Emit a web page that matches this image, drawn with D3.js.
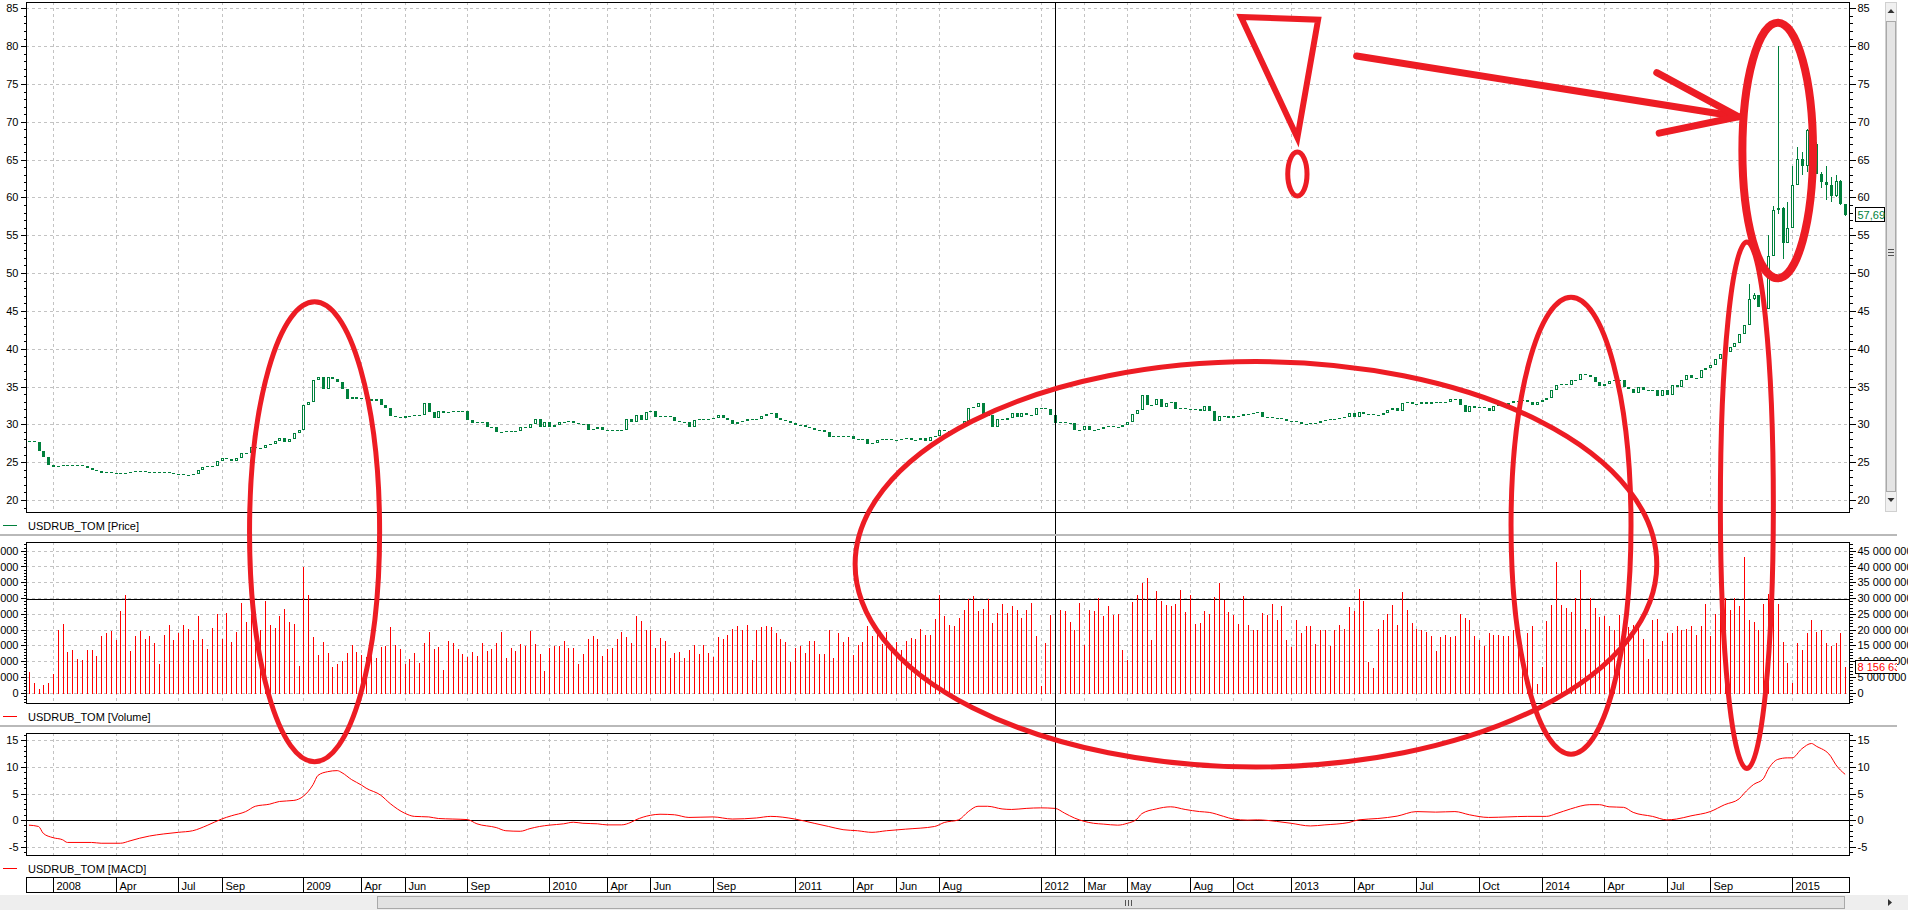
<!DOCTYPE html>
<html><head><meta charset="utf-8">
<script src="https://cdn.jsdelivr.net/npm/d3@7/dist/d3.min.js"></script>
<style>
html,body{margin:0;padding:0;background:#fff;overflow:hidden;}
svg{display:block;font-family:"Liberation Sans",Arial,sans-serif;}
</style></head><body>
<svg id="c" width="1908" height="910"></svg>
<script>
// ---------- DATA ----------
const closePrice = [
27.8,27.7,26.5,25.7,24.6,24.4,24.5,24.65,24.5,24.6,
24.6,24.5,24.2,23.9,23.8,23.6,23.7,23.6,23.5,23.55,
23.6,23.65,23.8,23.8,23.7,23.7,23.7,23.65,23.7,23.6,
23.45,23.4,23.3,23.35,23.4,23.9,24.4,24.5,24.5,25.1,
25.5,25.4,25.15,25.6,26.25,26.25,27.0,26.9,26.9,27.3,
27.4,27.8,28.2,27.7,28.1,28.9,29.3,32.5,32.9,35.8,
36.2,34.7,36.2,36.0,35.6,34.7,33.4,33.6,33.3,33.5,
33.4,33.1,33.3,32.6,32.2,31.1,31.0,30.8,31.1,31.1,
31.3,31.3,32.8,31.6,30.9,31.7,31.5,31.6,31.8,31.6,
31.8,30.6,30.2,30.3,30.3,29.6,29.6,29.0,29.0,29.1,
29.0,29.1,29.7,29.5,30.1,30.7,29.6,30.3,29.6,29.9,
30.3,30.3,30.4,30.2,30.0,30.0,29.3,29.4,29.6,29.2,
29.2,29.1,29.2,29.2,30.7,30.3,31.3,30.6,31.6,31.7,
31.0,31.1,31.1,31.0,30.4,30.3,30.3,29.7,30.6,30.7,
30.7,30.7,30.9,31.2,30.8,30.6,30.0,30.3,30.4,30.7,
30.7,30.7,31.1,31.4,31.5,30.9,30.6,30.5,30.2,29.9,
29.9,29.6,29.5,29.3,29.3,29.0,28.3,28.5,28.4,28.4,
28.5,28.0,28.1,28.1,27.4,27.5,27.9,28.0,28.0,27.9,
27.9,28.1,28.2,27.9,27.9,28.2,27.8,28.3,28.4,29.2,
29.1,29.0,29.4,29.8,30.4,32.2,32.3,32.8,31.2,31.2,
29.7,30.7,30.6,30.8,31.5,31.0,31.5,31.2,31.2,32.1,
32.1,32.0,31.2,30.2,30.3,30.2,30.2,29.2,29.3,29.8,
29.3,29.2,29.4,29.6,29.8,29.7,29.6,29.9,30.3,31.4,
31.9,33.9,32.5,32.6,33.3,32.3,32.8,32.9,32.0,32.1,
32.0,31.9,32.0,31.8,32.4,31.7,30.5,31.1,31.1,30.9,
31.1,31.1,31.4,31.4,31.5,31.6,31.0,31.0,30.9,30.9,
30.7,30.5,30.4,30.3,30.1,30.0,30.2,30.2,30.4,30.6,
30.7,30.7,30.8,31.0,31.5,31.0,31.6,31.4,31.4,31.3,
31.3,31.5,31.9,32.1,31.8,32.8,32.9,32.7,32.7,32.9,
32.7,33.0,33.0,33.0,33.0,33.3,33.3,32.6,31.6,32.4,
32.2,32.3,32.2,31.7,32.4,32.5,32.6,32.8,33.1,33.1,
33.2,33.0,32.5,32.9,33.2,33.5,34.5,35.2,35.3,35.2,
35.8,35.9,36.6,36.5,36.2,35.6,35.1,35.4,35.7,35.9,
35.8,35.0,34.7,34.2,35.0,34.5,34.5,34.5,33.7,34.5,
33.9,35.2,35.0,35.8,36.5,36.1,36.1,37.2,37.4,37.8,
38.6,39.3,39.6,40.2,40.8,42.0,43.1,46.6,47.1,45.5,
45.2,52.3,58.3,58.6,54.0,55.9,61.6,65.1,64.2,68.9,
67.0,63.1,62.0,61.6,60.2,62.2,59.1,57.69
];
const wickIndex = [357,358,361,362,363,364,365,366,367,368,369,370,371,372,373,374,375,376,377];
const wickHigh  = [48.6,47.4,55.0,58.8,80.0,58.7,59.4,64.1,66.6,66.0,69.0,69.0,67.3,63.4,64.1,62.7,62.9,62.3,59.1];
const wickLow   = [43.1,46.4,50.8,52.3,57.8,51.8,54.7,57.4,61.9,62.9,63.3,66.5,63.1,61.3,59.6,59.4,60.0,59.0,57.5];

// volume, millions
const volumeMln = [
6.5,3.0,1.2,2.4,3.2,5.9,19.8,21.7,13.0,13.5,
10.6,10.3,13.5,13.5,11.6,17.9,18.8,19.5,16.6,25.9,
30.9,13.2,17.9,19.5,17.0,17.9,15.9,9.1,18.4,21.4,
16.6,19.0,21.4,20.3,16.6,24.2,17.0,14.0,20.5,24.9,
17.0,25.3,16.1,19.2,28.5,22.4,25.0,24.0,20.0,29.1,
21.5,20.6,24.4,26.5,22.4,21.9,8.5,39.9,30.9,17.6,
11.9,16.1,12.7,8.2,9.0,10.1,12.7,15.2,12.9,12.1,
11.2,14.6,11.1,14.6,14.9,20.9,15.1,14.0,9.0,10.6,
12.6,9.3,15.9,19.2,14.0,14.5,7.2,16.3,15.9,13.8,
12.4,11.4,13.0,11.6,15.6,13.3,13.8,15.6,19.2,10.9,
14.3,13.3,15.4,14.8,19.5,15.4,12.2,6.8,14.2,14.8,
14.8,16.3,14.3,14.3,9.1,12.2,17.0,17.9,17.0,11.6,
14.0,14.2,17.0,19.2,17.5,15.6,24.4,22.8,19.8,19.8,
14.2,17.2,16.3,11.0,12.5,12.9,11.0,13.5,15.0,12.2,
15.0,12.5,11.3,17.6,17.1,18.4,20.1,21.1,20.0,21.4,
10.3,20.0,20.7,21.1,20.7,18.9,17.0,16.0,9.7,14.2,
14.8,12.6,16.3,16.3,12.2,12.2,19.8,11.0,18.8,16.0,
17.6,11.9,15.0,16.0,21.1,18.0,19.6,15.4,19.1,13.5,
16.0,13.5,16.3,17.4,17.0,20.1,18.3,18.4,23.3,31.1,
24.2,21.3,21.1,23.8,26.1,29.8,30.5,25.9,26.4,29.8,
22.0,25.1,28.2,25.3,27.4,26.3,23.8,26.3,28.3,18.0,
2.2,15.6,24.6,26.3,26.1,25.8,22.4,20.0,28.3,15.0,
26.1,25.9,30.1,24.4,27.4,24.6,24.9,13.5,10.3,28.7,
30.9,34.9,36.5,16.6,32.1,29.0,27.7,27.5,28.0,32.7,
25.6,30.9,21.7,22.2,25.8,24.9,30.3,34.7,29.5,25.6,
24.6,21.7,30.6,21.4,20.0,19.8,25.3,24.6,28.0,23.0,
27.4,16.6,14.5,23.0,19.0,21.1,21.1,15.4,19.8,20.0,
14.9,19.8,21.4,20.3,27.2,25.8,32.8,29.0,9.7,7.9,
20.3,23.0,24.9,27.7,21.4,31.9,26.1,22.2,20.3,19.8,
19.1,17.9,13.3,17.7,18.4,17.5,17.9,24.9,23.8,23.0,
17.9,16.6,14.8,18.8,18.4,18.4,17.9,17.9,20.0,20.0,
10.9,19.0,21.1,2.7,8.2,22.7,27.7,41.3,27.9,26.7,
25.6,30.1,38.8,20.3,30.1,26.7,24.0,24.2,21.1,20.0,
24.6,22.4,20.7,21.4,21.4,16.9,10.6,23.0,23.3,16.4,
19.0,18.8,21.1,20.0,20.3,21.1,18.2,21.1,28.0,17.9,
24.9,25.6,30.0,26.3,30.0,27.4,43.0,23.0,22.4,19.8,
28.0,31.4,28.0,28.2,16.1,9.3,3.2,15.6,13.5,18.8,
23.0,19.1,19.8,15.9,14.8,15.6,18.8,8.15663
];

const macdIndex = [0,2,3,5,7,8,13,15,19,21,23,25,28,31,34,37,40,42,45,47,50,52,55,57,59,60,62,64,65,67,69,70,73,75,78,80,83,85,88,91,93,97,99,102,104,106,108,111,113,115,118,120,123,125,126,129,131,134,137,142,146,151,154,159,163,166,169,172,175,178,182,188,190,193,195,197,199,202,204,207,210,213,215,217,221,223,226,228,230,231,234,237,240,243,245,248,250,253,255,259,262,266,269,274,276,280,284,288,292,296,299,303,307,311,315,317,320,324,326,328,331,333,337,340,342,345,349,352,355,356,358,360,361,363,365,366,368,370,371,374,375,377];
const macdValue = [-0.95,-1.2,-2.5,-3.3,-3.7,-4.2,-4.2,-4.35,-4.35,-3.9,-3.4,-3.0,-2.6,-2.3,-2.0,-1.0,0.2,0.8,1.6,2.6,3.0,3.5,3.7,4.5,6.7,8.4,9.1,9.3,8.9,7.6,6.6,6.0,4.7,3.1,1.3,0.7,0.6,0.3,0.2,0.1,-0.7,-1.4,-2.0,-2.1,-1.6,-1.2,-0.95,-0.7,-0.4,-0.6,-0.7,-0.9,-0.9,-0.4,0.05,0.9,1.1,1.0,0.5,0.6,0.2,0.4,0.7,0.2,-0.6,-1.2,-1.8,-2.0,-2.3,-2.0,-1.7,-1.2,-0.45,0.05,1.6,2.6,2.6,2.1,2.0,2.2,2.3,2.2,1.3,0.4,-0.6,-0.75,-0.95,-0.6,0.2,1.2,2.1,2.5,2.0,1.6,1.45,0.7,0.2,0.0,0.05,-0.25,-0.6,-1.1,-0.9,-0.45,0.05,0.3,0.75,1.6,1.5,1.6,1.0,0.5,0.6,0.7,0.7,1.2,2.1,2.9,2.9,2.5,2.4,1.45,0.7,0.05,0.2,0.8,1.6,2.9,4.0,5.0,6.7,7.75,9.5,11.4,11.7,11.7,13.4,14.4,13.9,12.0,10.5,8.6];

const tickIndex  = [5,18,31,40,57,69,78,91,108,120,129,142,159,171,180,189,210,219,228,241,250,262,275,288,301,314,327,340,349,366];
const tickLabels = ["2008","Apr","Jul","Sep","2009","Apr","Jun","Sep","2010","Apr","Jun","Sep","2011","Apr","Jun","Aug","2012","Mar","May","Aug","Oct","2013","Apr","Jul","Oct","2014","Apr","Jul","Sep","2015"];

const priceTicks = [20,25,30,35,40,45,50,55,60,65,70,75,80,85];
const volumeTicks = [0,5,10,15,20,25,30,35,40,45];
const macdTicks = [-5,0,5,10,15];

const seriesName = "USDRUB_TOM";
const crosshairIndex = 213, crosshairVolume = 29.6;

// hand-drawn annotations, in data units (bar index, price)
const annEllipseCx = [59.3, 254.7, 320.1, 356.6, 363.0];
const annEllipseCy = [15.8, 11.5, 16.6, 19.3, 66.2];
const annEllipseRx = [13.5, 83.2, 12.45, 5.5, 7.33];
const annEllipseRy = [30.4, 26.8, 30.2, 34.8, 16.9];
const annEllipseW  = [5, 5, 5, 5, 8];
const arrowShaft = [[275.6,78.7],[354.8,70.67]];
const arrowHead  = [[337.9,76.5],[354.8,70.67],[338.4,68.5]];
const bangTri = [[251.6,83.85],[267.6,83.5],[263.3,67.9]];
const bangDot = [263.3,63.1,2.0,2.9];

// ---------- LAYOUT ----------
const svg = d3.select("#c");
const GREEN="#00803c", RED="#ff0000", ANN="rgb(237,28,36)", GRID="#c3c3c3";
const L=26, R=1849;
const PP={top:2, bottom:512}, VP={top:542, bottom:703}, MP={top:733, bottom:855};
const FONT=11;

const x = d3.scaleLinear().domain([-0.6, closePrice.length-0.2]).range([L,R]);
const bx = i => Math.round(x(i));
const yP = d3.scaleLinear().domain([20,85]).range([500,8.3]);
const yV = d3.scaleLinear().domain([0,45]).range([692.7,550.7]);
const yM = d3.scaleLinear().domain([-5,15]).range([846.7,740.3]);

svg.append("rect").attr("width",1908).attr("height",910).attr("fill","#fff");
const defs = svg.append("defs");
defs.append("clipPath").attr("id","rclip").append("rect").attr("x",0).attr("y",0).attr("width",1897).attr("height",910);

function panel(p, y, ticks, majorStep, minorRange, fmt, solidZero){
  const g = svg.append("g").attr("shape-rendering","crispEdges");
  // horizontal grid
  ticks.forEach(t=>{
    if(solidZero && t===0) return;
    const yy = Math.round(y(t))+0.5;
    g.append("line").attr("x1",L).attr("x2",R).attr("y1",yy).attr("y2",yy)
      .attr("stroke",GRID).attr("stroke-dasharray","3,3");
  });
  // vertical grid
  tickIndex.forEach(i=>{
    const xx = bx(i)+0.5;
    g.append("line").attr("x1",xx).attr("x2",xx).attr("y1",p.top).attr("y2",p.bottom)
      .attr("stroke",GRID).attr("stroke-dasharray","3,3");
  });
  if(solidZero){
    const yy = Math.round(y(0))+0.5;
    g.append("line").attr("x1",L).attr("x2",R).attr("y1",yy).attr("y2",yy).attr("stroke","#000");
  }
  // axes
  const minor = d3.range(minorRange[0], minorRange[1]+1).filter(v=>ticks.indexOf(v)<0 && y(v)>p.top && y(v)<p.bottom);
  const mk = (axisFn, xpos, clip) => {
    const a = svg.append("g").attr("transform",`translate(${xpos},0)`)
      .call(axisFn(y).tickValues(ticks).tickSize(6).tickPadding(2).tickFormat(fmt));
    a.attr("font-size",FONT).attr("font-family","Liberation Sans, Arial, sans-serif");
    a.select(".domain").remove();
    a.selectAll("line").attr("shape-rendering","crispEdges");
    if(clip) a.attr("clip-path","url(#rclip)");
    const b = svg.append("g").attr("transform",`translate(${xpos},0)`)
      .call(axisFn(y).tickValues(minor).tickSize(3).tickFormat(""));
    b.select(".domain").remove();
    b.selectAll("line").attr("shape-rendering","crispEdges");
  };
  mk(d3.axisLeft, L+0.5, false);
  mk(d3.axisRight, R+0.5, true);
  return g;
}

panel(PP, yP, priceTicks, 5, [19,85], d=>d, false);
panel(VP, yV, volumeTicks, 5, [-3,47], d=>d3.format(",")(d*1e6).replace(/,/g," "), false);
panel(MP, yM, macdTicks, 5, [-6,16], d=>d, true);

// volume horizontal crosshair
svg.append("line").attr("x1",L).attr("x2",R)
  .attr("y1",Math.round(yV(crosshairVolume))+0.5).attr("y2",Math.round(yV(crosshairVolume))+0.5)
  .attr("stroke","#000").attr("shape-rendering","crispEdges");

// ---------- CANDLES ----------
const cg = svg.append("g").attr("shape-rendering","crispEdges");
closePrice.forEach((c,i)=>{
  const o = i>0 ? closePrice[i-1] : c;
  let hi=Math.max(o,c), lo=Math.min(o,c);
  const w = wickIndex.indexOf(i);
  if(w>=0){ hi=Math.max(hi,wickHigh[w]); lo=Math.min(lo,wickLow[w]); }
  const px = bx(i);
  const top = Math.round(yP(Math.max(o,c))), bot = Math.round(yP(Math.min(o,c)));
  const h = Math.max(1, bot-top);
  if(hi>Math.max(o,c)+0.05 || lo<Math.min(o,c)-0.05){
    cg.append("line").attr("x1",px+0.5).attr("x2",px+0.5)
      .attr("y1",Math.round(yP(hi))).attr("y2",Math.round(yP(lo))).attr("stroke",GREEN);
  }
  if(c<o || h<=2){
    cg.append("rect").attr("x",px-1).attr("y",top).attr("width",3).attr("height",Math.max(h,1)).attr("fill",GREEN);
  } else {
    cg.append("rect").attr("x",px-0.5).attr("y",top+0.5).attr("width",2).attr("height",h-1)
      .attr("fill","#fff").attr("stroke",GREEN);
  }
});

// ---------- VOLUME ----------
const vg = svg.append("g").attr("shape-rendering","crispEdges");
volumeMln.forEach((v,i)=>{
  const px = bx(i)+0.5;
  vg.append("line").attr("x1",px).attr("x2",px).attr("y1",Math.round(yV(0))+1).attr("y2",Math.round(yV(v)))
    .attr("stroke",RED);
});

// ---------- MACD ----------
const macdPts = macdIndex.map((d,k)=>[d,macdValue[k]]);
svg.append("path").datum(macdPts)
  .attr("d", d3.line().x(d=>x(d[0])).y(d=>yM(d[1])).curve(d3.curveMonotoneX))
  .attr("fill","none").attr("stroke",RED).attr("stroke-width",1);

// ---------- FRAMES ----------
const fg = svg.append("g").attr("shape-rendering","crispEdges");
[PP,VP,MP].forEach(p=>{
  fg.append("rect").attr("x",L+0.5).attr("y",p.top+0.5).attr("width",R-L).attr("height",p.bottom-p.top)
    .attr("fill","none").attr("stroke","#000");
});
// vertical crosshair
fg.append("line").attr("x1",bx(crosshairIndex)+0.5).attr("x2",bx(crosshairIndex)+0.5)
  .attr("y1",PP.top).attr("y2",MP.bottom).attr("stroke","#000");

// separators
[535,726].forEach(yy=>{
  fg.append("rect").attr("x",0).attr("y",yy-1).attr("width",1897).attr("height",2).attr("fill","#b9b9b9");
});

// legends
const legends = [[529.5,"[Price]",GREEN],[720.5,"[Volume]",RED],[872.5,"[MACD]",RED]];
legends.forEach(([yy,t,col])=>{
  fg.append("line").attr("x1",3).attr("x2",17).attr("y1",yy-4.5).attr("y2",yy-4.5).attr("stroke",col);
  svg.append("text").attr("x",28).attr("y",yy).attr("font-size",FONT).text(seriesName+" "+t);
});

// last value labels
const lastP = closePrice[closePrice.length-1];
const lg = svg.append("g").attr("clip-path","url(#rclip)");
lg.append("rect").attr("x",1855.5).attr("y",Math.round(yP(lastP))-7.5).attr("width",29).attr("height",14)
  .attr("fill","#fff").attr("stroke","#000").attr("shape-rendering","crispEdges");
lg.append("text").attr("x",1857.5).attr("y",Math.round(yP(lastP))+4).attr("font-size",FONT).attr("fill",GREEN)
  .text(d3.format(".2f")(lastP).replace(".",","));
const lastV = volumeMln[volumeMln.length-1];
lg.append("rect").attr("x",1855.5).attr("y",Math.round(yV(lastV))-6.5).attr("width",60).attr("height",13)
  .attr("fill","#fff").attr("stroke","#000").attr("shape-rendering","crispEdges");
lg.append("text").attr("x",1857.5).attr("y",Math.round(yV(lastV))+4).attr("font-size",FONT).attr("fill",RED)
  .text(d3.format(",")(Math.round(lastV*1e6)).replace(/,/g," "));

// date axis
const dg = svg.append("g").attr("shape-rendering","crispEdges");
dg.append("rect").attr("x",L+0.5).attr("y",877.5).attr("width",R-L).attr("height",15).attr("fill","#fff").attr("stroke","#000");
tickIndex.forEach((i,k)=>{
  const xx = bx(i)+0.5;
  dg.append("line").attr("x1",xx).attr("x2",xx).attr("y1",877.5).attr("y2",892.5).attr("stroke","#000");
  svg.append("text").attr("x",xx+3).attr("y",889.5).attr("font-size",FONT).text(tickLabels[k]);
});

// scrollbars
const sb = svg.append("g").attr("shape-rendering","crispEdges");
sb.append("rect").attr("x",0).attr("y",895).attr("width",1908).attr("height",15).attr("fill","#eeeeee");
sb.append("rect").attr("x",377.5).attr("y",896.5).attr("width",1467).attr("height",12).attr("fill","#e2e2e2").attr("stroke","#a9a9a9");
[-3,0,3].forEach(d=>sb.append("line").attr("x1",1128.5+d).attr("x2",1128.5+d).attr("y1",900).attr("y2",906).attr("stroke","#555"));
svg.append("path").attr("d","M1888,899 L1892,902.5 L1888,906 Z").attr("fill","#333");
sb.append("rect").attr("x",1885.5).attr("y",2.5).attr("width",11).attr("height",509).attr("fill","#f0f0f0").attr("stroke","#d0d0d0");
sb.append("rect").attr("x",1886.5).attr("y",21.5).attr("width",9).attr("height",470).attr("fill","#e4e4e4").attr("stroke","#a9a9a9");
[-3,0,3].forEach(d=>sb.append("line").attr("x1",1888).attr("x2",1894).attr("y1",252.5+d).attr("y2",252.5+d).attr("stroke","#555"));
svg.append("path").attr("d","M1891,9 L1894.5,13 L1887.5,13 Z").attr("fill","#333");
svg.append("path").attr("d","M1891,502 L1894.5,498 L1887.5,498 Z").attr("fill","#333");

// ---------- ANNOTATIONS ----------
const ag = svg.append("g").attr("fill","none").attr("stroke",ANN).attr("stroke-linecap","round").attr("stroke-linejoin","round");
annEllipseCx.forEach((cx,k)=>{
  const X=x(cx), Y=yP(annEllipseCy[k]);
  ag.append("ellipse").attr("cx",X).attr("cy",Y)
    .attr("rx",x(cx+annEllipseRx[k])-X).attr("ry",Y-yP(annEllipseCy[k]+annEllipseRy[k]))
    .attr("stroke-width",annEllipseW[k]);
});
const pl = d3.line().x(d=>x(d[0])).y(d=>yP(d[1]));
ag.append("path").attr("d",pl(arrowShaft)).attr("stroke-width",7);
ag.append("path").attr("d",pl(arrowHead)).attr("stroke-width",7);
ag.append("path").attr("d",pl(bangTri)+"Z").attr("stroke-width",6).attr("fill","#fff").attr("stroke-linejoin","miter");
ag.append("ellipse").attr("cx",x(bangDot[0])).attr("cy",yP(bangDot[1]))
  .attr("rx",x(bangDot[0]+bangDot[2])-x(bangDot[0])).attr("ry",yP(bangDot[1])-yP(bangDot[1]+bangDot[3]))
  .attr("stroke-width",5).attr("fill","#fff");
</script></body></html>
